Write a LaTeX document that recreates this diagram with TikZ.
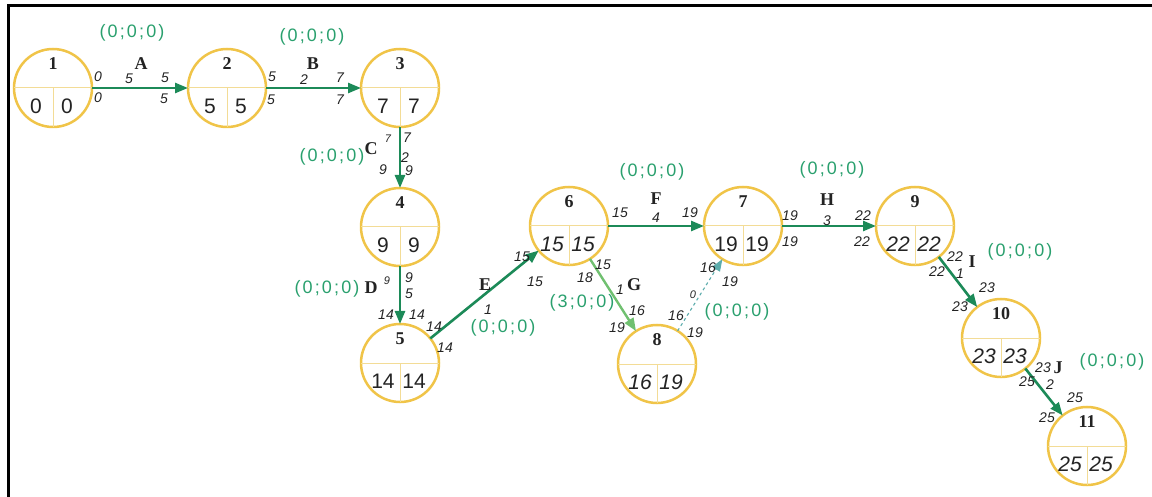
\documentclass[tikz,border=0pt]{standalone}
\usepackage{fontspec}
\setmainfont{Liberation Serif}
\newfontfamily\handf{Liberation Sans}
\newfontfamily\greenf[LetterSpace=12]{Liberation Sans}
\usetikzlibrary{arrows.meta,calc}
\definecolor{gold}{RGB}{240,196,72}
\definecolor{divc}{RGB}{243,220,150}
\definecolor{agreen}{RGB}{28,138,88}
\definecolor{lgreen}{RGB}{112,192,112}
\definecolor{dteal}{RGB}{92,172,172}
\definecolor{glab}{RGB}{42,160,110}
\definecolor{txt}{RGB}{35,35,35}
\newcommand\EvNode[7]{%
  \node[evt] (#1) at (#2,#3) {};
  \draw[div] (#1.west) -- (#1.east);
  \draw[div] (#1.center) -- (#1.south);
  \node[ttl] (#1t) at ($(#1)+(0,-24)$) {#4};
  \node[#7] (#1a) at ($(#1)+(-17,18)$) {#5};
  \node[#7] (#1b) at ($(#1)+(14,18)$) {#6};
}
\begin{document}
\begin{tikzpicture}[x=1pt,y=-1pt,
  evt/.style={circle,draw=gold,line width=2.5pt,minimum size=78pt,inner sep=0pt,outer sep=0pt,fill=white},
  div/.style={draw=divc,line width=1pt},
  ttl/.style={font=\fontsize{18}{18}\selectfont\bfseries,text=txt,inner sep=0pt},
  num/.style={font=\handf\fontsize{21}{21}\selectfont,text=txt,inner sep=0pt},
  numi/.style={font=\handf\itshape\fontsize{21}{21}\selectfont,text=txt,inner sep=0pt},
  en/.style={font=\handf\itshape\fontsize{14}{14}\selectfont,text=txt,inner sep=0pt},
  ens/.style={font=\handf\itshape\fontsize{11}{11}\selectfont,text=txt,inner sep=0pt},
  lt/.style={font=\fontsize{18}{18}\selectfont\bfseries,text=txt,inner sep=0pt},
  gl/.style={font=\greenf\fontsize{18}{18}\selectfont,text=glab,inner sep=0pt},
  arr/.style={draw=agreen,line width=2.6pt,-{Triangle[length=13pt,width=10pt]}},
  arrg/.style={draw=lgreen,line width=2.4pt,-{Triangle[length=13pt,width=10pt]}},
  arrd/.style={draw=dteal,line width=1.1pt,dashed,-{Triangle[length=12pt,width=9pt]}},
  frame/.style={draw=black,line width=3pt}]
\useasboundingbox (0,0) rectangle (1152,497);
\draw[frame] (8,497) -- (8,6) -- (1152,6);

\EvNode{n1}{53}{88}{1}{0}{0}{num}
\EvNode{n2}{227}{88}{2}{5}{5}{num}
\EvNode{n3}{400}{88}{3}{7}{7}{num}
\EvNode{n4}{400}{227}{4}{9}{9}{num}
\EvNode{n5}{400}{363}{5}{14}{14}{num}
\EvNode{n6}{569}{226}{6}{15}{15}{numi}
\EvNode{n7}{743}{226}{7}{19}{19}{num}
\EvNode{n8}{657}{364}{8}{16}{19}{numi}
\EvNode{n9}{915}{226}{9}{22}{22}{numi}
\EvNode{n10}{1001}{338}{10}{23}{23}{numi}
\EvNode{n11}{1087}{446}{11}{25}{25}{numi}

\draw[arr] (n1) -- (n2);
\draw[arr] (n2) -- (n3);
\draw[arr] (n3) -- (n4);
\draw[arr] (n4) -- (n5);
\draw[arr] (n5) -- (n6);
\draw[arr] (n6) -- (n7);
\draw[arrg] (n6) -- (n8);
\draw[arrd] (n8) -- (n7);
\draw[arr] (n7) -- (n9);
\draw[arr] (n9) -- (n10);
\draw[arr] (n10) -- (n11);

% A
\node[en] (a1) at (98,77) {0};
\node[en] (a2) at (98,98) {0};
\node[en] (a3) at (129,79) {5};
\node[en] (a4) at (165,78) {5};
\node[en] (a5) at (164,99) {5};
\node[lt] (aL) at (141,64) {A};
\node[gl] (aG) at (132,33) {(0;0;0)};
% B
\node[en] (b1) at (272,77) {5};
\node[en] (b2) at (271,100) {5};
\node[en] (b3) at (304,80) {2};
\node[en] (b4) at (340,78) {7};
\node[en] (b5) at (340,100) {7};
\node[lt] (bL) at (313,64) {B};
\node[gl] (bG) at (312,37) {(0;0;0)};
% C
\node[ens] (c1) at (388,139) {7};
\node[en] (c2) at (407,138) {7};
\node[en] (c3) at (405,158) {2};
\node[en] (c4) at (383,170) {9};
\node[en] (c5) at (409,171) {9};
\node[lt] (cL) at (371,149) {C};
\node[gl] (cG) at (332,157) {(0;0;0)};
% D
\node[ens] (d1) at (387,281) {9};
\node[en] (d2) at (409,278) {9};
\node[en] (d3) at (409,294) {5};
\node[en] (d4) at (386,315) {14};
\node[en] (d5) at (417,315) {14};
\node[lt] (dL) at (371,288) {D};
\node[gl] (dG) at (327,289) {(0;0;0)};
% E
\node[en] (e1) at (434,327) {14};
\node[en] (e2) at (445,348) {14};
\node[en] (e3) at (488,310) {1};
\node[en] (e4) at (522,257) {15};
\node[en] (e5) at (535,282) {15};
\node[lt] (eL) at (485,285) {E};
\node[gl] (eG) at (503,328) {(0;0;0)};
% F
\node[en] (f1) at (620,213) {15};
\node[en] (f2) at (656,218) {4};
\node[en] (f3) at (690,213) {19};
\node[lt] (fL) at (656,199) {F};
\node[gl] (fG) at (652,172) {(0;0;0)};
% G
\node[en] (g1) at (603,265) {15};
\node[en] (g2) at (585,278) {18};
\node[en] (g3) at (620,290) {1};
\node[en] (g4) at (637,311) {16};
\node[en] (g5) at (617,328) {19};
\node[lt] (gL) at (634,285) {G};
\node[gl] (gG) at (582,303) {(3;0;0)};
% dummy 8 -> 7
\node[en] (h1) at (676,316) {16};
\node[en] (h2) at (695,333) {19};
\node[ens] (h3) at (693,295) {0};
\node[en] (h4) at (708,268) {16};
\node[en] (h5) at (730,282) {19};
\node[gl] (hG) at (737,312) {(0;0;0)};
% H
\node[en] (k1) at (790,216) {19};
\node[en] (k2) at (790,242) {19};
\node[en] (k3) at (827,221) {3};
\node[en] (k4) at (863,216) {22};
\node[en] (k5) at (862,242) {22};
\node[lt] (kL) at (827,200) {H};
\node[gl] (kG) at (832,170) {(0;0;0)};
% I
\node[en] (i1) at (955,257) {22};
\node[en] (i2) at (937,272) {22};
\node[en] (i3) at (960,274) {1};
\node[en] (i4) at (987,288) {23};
\node[en] (i5) at (960,307) {23};
\node[lt] (iL) at (972,262) {I};
\node[gl] (iG) at (1020,252) {(0;0;0)};
% J
\node[en] (j1) at (1043,368) {23};
\node[en] (j2) at (1027,382) {25};
\node[en] (j3) at (1050,385) {2};
\node[en] (j4) at (1075,398) {25};
\node[en] (j5) at (1047,418) {25};
\node[lt] (jL) at (1058,368) {J};
\node[gl] (jG) at (1112,362) {(0;0;0)};
\end{tikzpicture}
\end{document}
